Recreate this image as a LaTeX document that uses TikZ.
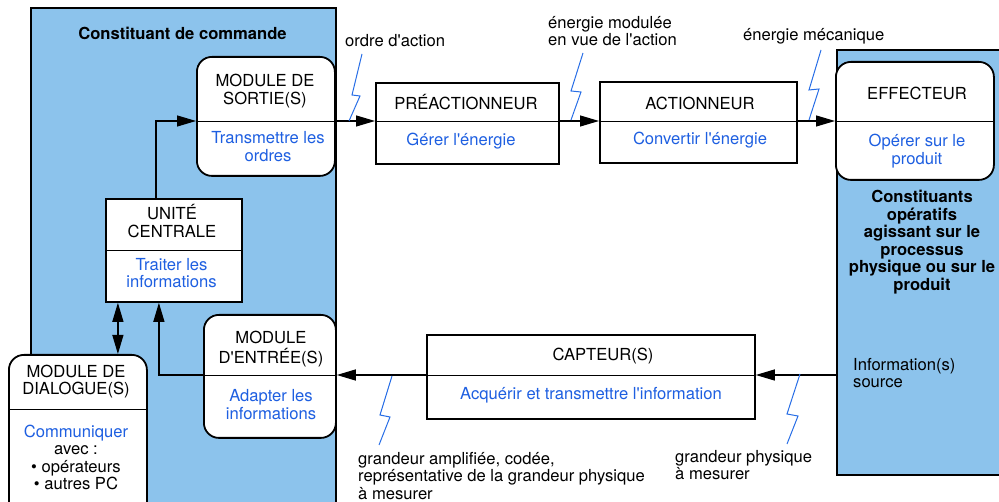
\documentclass[tikz,border=0pt]{standalone}
\usepackage{fontspec}
\setmainfont{TeX Gyre Heros}
\usetikzlibrary{arrows.meta}
\definecolor{panelblue}{RGB}{140,195,236}
\definecolor{txtblue}{RGB}{30,95,225}
\definecolor{boltblue}{RGB}{40,110,230}
\newcommand{\fs}{\fontsize{16.6}{17.5}\selectfont}
\newcommand{\ph}{\vphantom{ÉAg}}
\newcommand{\pe}{\vphantom{g}}
\newcommand{\q}{\textquotesingle}
\begin{document}
\begin{tikzpicture}[x=1pt,y=-1pt,
  panel/.style={fill=panelblue, draw=black, line width=1.8pt, inner sep=0pt, anchor=north west},
  box/.style={draw=black, line width=1.8pt, fill=white, inner sep=0pt, anchor=north west},
  rbox/.style={box, rounded corners=15pt},
  divline/.style={line width=0.8pt},
  arr/.style={line width=1.2pt, -{Triangle[length=19pt,width=11pt]}},
  darr/.style={line width=1.2pt, {Triangle[length=19pt,width=11pt]}-{Triangle[length=19pt,width=11pt]}},
  bolt/.style={draw=boltblue, line width=1pt},
  txt/.style={font=\fs, align=center, inner sep=0pt},
  acttxt/.style={txt, text=txtblue},
  lab/.style={font=\fs, align=left, anchor=west, inner sep=0pt},
]
\useasboundingbox (0,0) rectangle (999,502);
\clip (0,0) rectangle (999,502);

% panels
\node[panel, minimum width=305pt, minimum height=530pt] (lp) at (30,7) {};
\node[panel, minimum width=200pt, minimum height=425pt] (rp) at (836,49) {};

% guide lines
\coordinate (topline) at (0,121);
\coordinate (botline) at (0,375);
\coordinate (ucdiv) at (0,250);
\coordinate (mddiv) at (0,409);

% boxes
\node[rbox, minimum width=138pt, minimum height=119pt] (ms) at (196,56) {};
\node[box, minimum width=183pt, minimum height=81pt] (pre) at (375,82) {};
\node[box, minimum width=197pt, minimum height=81pt] (act) at (599,81) {};
\node[rbox, minimum width=158pt, minimum height=118pt] (eff) at (835,61) {};
\node[box, minimum width=136pt, minimum height=103pt] (uc) at (105,198) {};
\node[rbox, minimum width=138pt, minimum height=180pt] (md) at (8,354) {};
\node[rbox, minimum width=132pt, minimum height=123pt] (me) at (203,314) {};
\node[box, minimum width=328pt, minimum height=84pt] (cap) at (426,334) {};

% dividers
\draw[divline] (ms.west |- topline) -- (ms.east |- topline);
\draw[divline] (pre.west |- topline) -- (pre.east |- topline);
\draw[divline] (act.west |- topline) -- (act.east |- topline);
\draw[divline] (eff.west |- topline) -- (eff.east |- topline);
\draw[divline] (uc.west |- ucdiv) -- (uc.east |- ucdiv);
\draw[divline] (md.west |- mddiv) -- (md.east |- mddiv);
\draw[divline] (me.west |- botline) -- (me.east |- botline);
\draw[divline] (cap.west |- botline) -- (cap.east |- botline);

% connectors
\draw[arr] (ms.east |- topline) -- (pre.west |- topline);
\draw[arr] (pre.east |- topline) -- (act.west |- topline);
\draw[arr] (act.east |- topline) -- (eff.west |- topline);
\draw[arr] (rp.west |- botline) -- (cap.east |- botline);
\draw[arr] (cap.west |- botline) -- (me.east |- botline);
\draw[arr] (me.west |- botline) -| ([xshift=-15pt]uc.south);
\draw[arr] ([xshift=-18pt]uc.north) |- (ms.west |- topline);
\draw[darr] ([xshift=-56pt]uc.south) -- ([xshift=-56pt]uc.south |- md.north);

% lightning marks
\draw[bolt] (362,54) -- (352,95) -- (360,96) -- (349,121);
\draw[bolt] (583,53) -- (571,91) -- (581,92) -- (571,120);
\draw[bolt] (821,50) -- (809,90) -- (819,89) -- (809,120);
\draw[bolt] (392,376) -- (380,415) -- (390,417) -- (379,445);
\draw[bolt] (800,374) -- (787,414) -- (798,416) -- (787,444);

% texts
\node[txt, font=\fs\bfseries] (cc-t) at (182.5,34) {\ph Constituant de commande\pe};
\node[txt] (ms-t) at (265,89.5) {\ph MODULE DE\\SORTIE(S)\pe};
\node[acttxt] (ms-a) at (268,146.5) {\ph Transmettre les\\ordres\pe};
\node[txt] (pre-t) at (466,104) {\ph PRÉACTIONNEUR\pe};
\node[acttxt] (pre-a) at (461,140) {\ph Gérer l\q énergie\pe};
\node[txt] (act-t) at (700,104) {\ph ACTIONNEUR\pe};
\node[acttxt] (act-a) at (700,139) {\ph Convertir l\q énergie\pe};
\node[txt] (eff-t) at (917,94) {\ph EFFECTEUR\pe};
\node[acttxt] (eff-a) at (917,149.5) {\ph Opérer sur le\\produit\pe};
\node[txt, font=\fs\bfseries] (rp-t) at (922,240.5) {\ph Constituants\\opératifs\\agissant sur le\\processus\\physique ou sur le\\produit\pe};
\node[lab] (rp-i) at (853,373) {\ph Information(s)\\source\pe};
\node[txt] (uc-t) at (172,222.5) {\ph UNITÉ\\CENTRALE\pe};
\node[acttxt] (uc-a) at (171.5,273) {\ph Traiter les\\informations\pe};
\node[txt] (md-t) at (76,380) {\ph MODULE DE\\DIALOGUE(S)\pe};
\node[txt] (md-a) at (76,457.5) {\ph\textcolor{txtblue}{Communiquer}\\avec :\\\textbullet\ opérateurs\\\textbullet\ autres PC\pe};
\node[txt] (me-t) at (271,348) {\ph MODULE\\D\q ENTRÉE(S)\pe};
\node[acttxt] (me-a) at (271,404.5) {\ph Adapter les\\informations\pe};
\node[txt] (cap-t) at (603,355) {\ph CAPTEUR(S)\pe};
\node[acttxt] (cap-a) at (591,393.5) {\ph Acquérir et transmettre l\q information\pe};

% flow labels
\node[lab] (l1) at (345,41) {\ph ordre d\q action\pe};
\node[lab] (l2) at (548,31) {\ph énergie modulée\\en vue de l\q action\pe};
\node[lab] (l3) at (743,35) {\ph énergie mécanique\pe};
\node[lab] (l4) at (358,476) {\ph grandeur amplifiée, codée,\\représentative de la grandeur physique\\à mesurer\pe};
\node[lab] (l5) at (675,465) {\ph grandeur physique\\à mesurer\pe};
\end{tikzpicture}
\end{document}
